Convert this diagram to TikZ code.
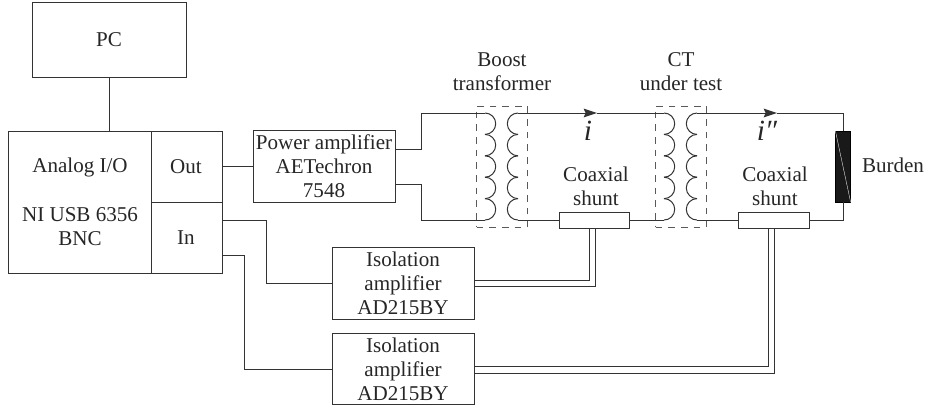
\documentclass[tikz,border=0pt]{standalone}
\usepackage{fontspec}
\setmainfont{Liberation Serif}
\usetikzlibrary{arrows.meta}
\tikzset{
    labeltext/.style={inner sep=0pt,align=center,text=black!85,font=\fontsize{15.8}{18}\selectfont},
    blockbox/.style={draw=black!80,line width=0.75pt,inner sep=0pt,align=center,text=black!85,font=\fontsize{15.8}{18}\selectfont},
    ampbox/.style={blockbox,minimum width=106.5pt,minimum height=53.5pt},
    shuntbox/.style={draw=black!80,line width=0.75pt,inner sep=0pt,minimum width=53pt,minimum height=12pt},
    corebox/.style={draw=black!65,line width=0.75pt,dash pattern=on 5pt off 4.5pt,inner sep=0pt,minimum width=38pt,minimum height=90.75pt},
    wire/.style={draw=black!80,line width=0.75pt},
    coil/.style={draw=black!80,line width=0.75pt},
    currenttext/.style={inner sep=0pt,text=black!85,font=\fontsize{22}{22}\selectfont\itshape},
    currenttip/.style={-{Stealth[length=10pt,width=6.5pt,inset=1.5pt]}}
}
\begin{document}
\begin{tikzpicture}[x=0.75pt,y=-0.75pt]
    \useasboundingbox (0,0) rectangle (927,408);

    % Rechner und Messkarte
    \node[blockbox,minimum width=115.5pt,minimum height=56.25pt] (pc) at (109,39.5) {PC};
    \node[blockbox,minimum width=160.5pt,minimum height=106.5pt] (daq) at (115,202) {};
    \coordinate (daqsplit) at (151,131);
    \coordinate (daqmid) at (222,202);
    \draw[wire] (daqsplit) -- (daqsplit |- daq.south);
    \draw[wire] (daqmid) -- (daqsplit |- daqmid);
    \node[labeltext] (analog) at (80,167) {Analog I/O};
    \node[labeltext] (nicard) at (80,226.5) {NI USB 6356\\BNC};
    \node[labeltext] (out) at (186,167) {Out};
    \node[labeltext] (in) at (186,238) {In};
    \draw[wire] (pc.south) -- (pc.south |- daq.north);

    % Verstaerker
    \node[ampbox] (power) at (324,166.5) {Power amplifier\\AETechron\\7548};
    \node[ampbox] (iso1) at (403,283.5) {Isolation\\amplifier\\AD215BY};
    \node[ampbox] (iso2) at (403,369) {Isolation\\amplifier\\AD215BY};

    % Kerne und Wicklungen
    \foreach \corename/\corex in {boost/502,ct/681} {
        \begin{scope}[shift={(\corex,0)}]
            \foreach \i in {0,1,...,4} {
                \draw[coil] (-17,{113+\i*21.4}) arc[start angle=90,end angle=-90,radius=8.03pt];
                \draw[coil] (16,{113+\i*21.4}) arc[start angle=90,end angle=270,radius=8.03pt];
            }
            \coordinate (\corename pt) at (-17,113);
            \coordinate (\corename pb) at (-17,220);
            \coordinate (\corename st) at (16,113);
            \coordinate (\corename sb) at (16,220);
        \end{scope}
        \node[corebox] (\corename) at (\corex,166.5) {};
    }

    % Shunts und Buerde
    \node[shuntbox] (shunt1) at (594.5,220) {};
    \node[shuntbox] (shunt2) at (774,220) {};
    \node[draw=black,fill=black!90,inner sep=0pt,minimum width=11pt,minimum height=53pt] (burden) at (843,166.5) {};
    \draw[white,line width=0.25pt] (burden.north west) -- (burden.south east);

    % Stromkreise
    \coordinate (pahigh) at (421,113);
    \coordinate (palow) at (421,220);
    \coordinate (itip) at (597,113);
    \coordinate (iitip) at (777,113);
    \coordinate (burdentop) at (843,113);
    \coordinate (burdenbot) at (843,220);
    \draw[wire] ([yshift=12.75pt]power.east) -- ([yshift=12.75pt]power.east -| pahigh) -- (pahigh) -- (boostpt);
    \draw[wire] ([yshift=-13.5pt]power.east) -- ([yshift=-13.5pt]power.east -| palow) -- (palow) -- (boostpb);
    \draw[wire,currenttip] (boostst) -- (itip);
    \draw[wire] (itip) -- (ctpt);
    \draw[wire,currenttip] (ctst) -- (iitip);
    \draw[wire] (iitip) -- (burdentop) -- (burden.north);
    \draw[wire] (boostsb) -- (shunt1.west);
    \draw[wire] (shunt1.east) -- (ctpb);
    \draw[wire] (ctsb) -- (shunt2.west);
    \draw[wire] (shunt2.east) -- (burdenbot) -- (burden.south);

    % Messleitungen
    \coordinate (daqout) at (222,166.5);
    \coordinate (inhigh) at (222,220);
    \coordinate (inlow) at (222,255);
    \coordinate (bendhigh) at (266,220);
    \coordinate (bendlow) at (244,255);
    \draw[wire] (daqout) -- (power.west);
    \draw[wire] (inhigh) -- (bendhigh) |- (iso1.west);
    \draw[wire] (inlow) -- (bendlow) |- (iso2.west);
    \draw[wire] ([yshift=2.6pt]iso1.east) -| ([xshift=-4pt]shunt1.south);
    \draw[wire] ([yshift=-2.6pt]iso1.east) -| ([xshift=0.5pt]shunt1.south);
    \draw[wire] ([yshift=2.25pt]iso2.east) -| ([xshift=-4.5pt]shunt2.south);
    \draw[wire] ([yshift=-3pt]iso2.east) -| ([xshift=0pt]shunt2.south);

    % Beschriftungen
    \node[labeltext] (boostlabel) at (502,71.5) {Boost\\transformer};
    \node[labeltext] (ctlabel) at (681,71.5) {CT\\under test};
    \node[labeltext] (coax1) at (596,186.5) {Coaxial\\shunt};
    \node[labeltext] (coax2) at (775,186.5) {Coaxial\\shunt};
    \node[labeltext] (burdenlabel) at (893,165) {Burden};
    \node[currenttext] (ilabel) at (588,131) {i};
    \node[currenttext] (iilabel) at (767,131) {i″};
\end{tikzpicture}
\end{document}
